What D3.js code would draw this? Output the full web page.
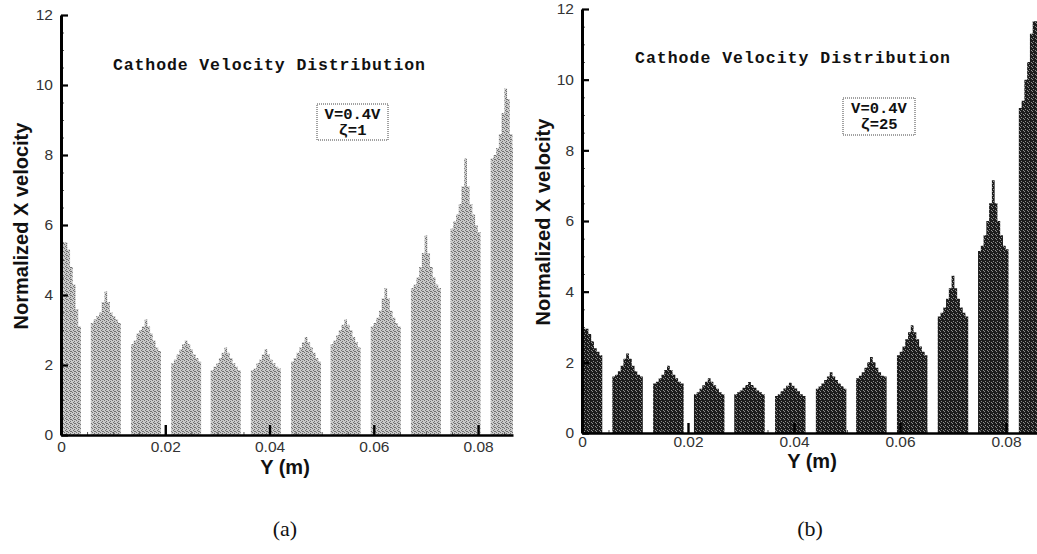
<!DOCTYPE html>
<html>
<head>
<meta charset="utf-8">
<script src="https://cdn.jsdelivr.net/npm/d3@7"></script>
<style>
  body { margin: 0; background: #fff; }
  svg { display: block; }
</style>
</head>
<body>
<div id="chart"></div>
<script>
// channel centres along Y (m), same for both cases
const channelCenters = [0.00095, 0.0086, 0.0163, 0.0240, 0.0316, 0.0393, 0.0470, 0.0546, 0.0623, 0.0700, 0.0776, 0.0853];
const channelWidth = 0.00575;

// normalized x velocity, 11 cells across each channel
// (a) zeta = 1
const velocityA = [
  [5.3, 5.4, 5.5, 5.5, 5.5, 5.5, 5.3, 4.8, 4.3, 3.6, 3.1],
  [3.2, 3.3, 3.4, 3.5, 3.8, 4.1, 3.8, 3.5, 3.4, 3.3, 3.2],
  [2.6, 2.7, 2.9, 3.0, 3.1, 3.3, 3.1, 2.9, 2.7, 2.5, 2.4],
  [2.05, 2.15, 2.3, 2.45, 2.6, 2.7, 2.6, 2.45, 2.3, 2.2, 2.1],
  [1.85, 1.95, 2.05, 2.2, 2.35, 2.5, 2.35, 2.2, 2.05, 1.95, 1.85],
  [1.85, 1.9, 2.05, 2.15, 2.3, 2.45, 2.3, 2.15, 2.05, 1.95, 1.9],
  [2.1, 2.2, 2.35, 2.5, 2.65, 2.8, 2.65, 2.5, 2.35, 2.2, 2.1],
  [2.6, 2.7, 2.85, 3.0, 3.15, 3.3, 3.15, 3.0, 2.8, 2.65, 2.5],
  [3.1, 3.2, 3.35, 3.55, 3.9, 4.2, 3.9, 3.55, 3.35, 3.2, 3.1],
  [4.2, 4.3, 4.5, 4.8, 5.2, 5.7, 5.2, 4.8, 4.5, 4.3, 4.2],
  [5.9, 6.1, 6.3, 6.6, 7.1, 7.9, 7.1, 6.6, 6.3, 6.0, 5.8],
  [7.9, 8.0, 8.2, 8.6, 9.2, 9.9, 9.6, 8.6, 8.2, 8.0, 7.9]
];
// (b) zeta = 25
const velocityB = [
  [2.7, 2.8, 2.85, 2.9, 2.95, 2.95, 2.8, 2.6, 2.4, 2.3, 2.2],
  [1.6, 1.65, 1.75, 1.9, 2.1, 2.25, 2.1, 1.9, 1.75, 1.65, 1.6],
  [1.4, 1.45, 1.55, 1.65, 1.78, 1.9, 1.78, 1.65, 1.55, 1.45, 1.4],
  [1.1, 1.15, 1.25, 1.35, 1.45, 1.55, 1.45, 1.35, 1.25, 1.15, 1.1],
  [1.1, 1.15, 1.2, 1.28, 1.36, 1.44, 1.36, 1.28, 1.2, 1.15, 1.1],
  [1.05, 1.1, 1.18, 1.26, 1.34, 1.42, 1.34, 1.26, 1.18, 1.1, 1.05],
  [1.25, 1.32, 1.4, 1.5, 1.6, 1.72, 1.6, 1.5, 1.4, 1.32, 1.25],
  [1.55, 1.62, 1.72, 1.85, 2.0, 2.15, 2.0, 1.85, 1.72, 1.62, 1.6],
  [2.2, 2.3, 2.45, 2.65, 2.85, 3.05, 2.85, 2.65, 2.45, 2.3, 2.2],
  [3.3, 3.4, 3.55, 3.8, 4.1, 4.45, 4.1, 3.8, 3.55, 3.4, 3.3],
  [5.15, 5.3, 5.6, 6.0, 6.5, 7.15, 6.5, 6.0, 5.6, 5.3, 5.2],
  [9.2, 9.4, 10.0, 10.5, 11.3, 11.65, 11.65, 11.3, 10.5, 10.0, 9.4]
];

const yTicks = [0, 2, 4, 6, 8, 10, 12];
const xTicks = [0, 0.02, 0.04, 0.06, 0.08];
const xTickLabels = ["0", "0.02", "0.04", "0.06", "0.08"];
const titleText = "Cathode Velocity Distribution";
const legendA = ["V=0.4V", "\u03B6=1"];
const legendB = ["V=0.4V", "\u03B6=25"];

const W = 1037, H = 554;

const svg = d3.select("#chart").append("svg")
    .attr("width", W)
    .attr("height", H);

const defs = svg.append("defs");

// halftone look of the scanned fills
function makePattern(id, bg, dot, dots) {
    const p = defs.append("pattern")
        .attr("id", id)
        .attr("patternUnits", "userSpaceOnUse")
        .attr("width", 4).attr("height", 4);
    p.append("rect").attr("width", 4).attr("height", 4).attr("fill", bg);
    dots.forEach(function (d) {
        p.append("rect").attr("x", d[0]).attr("y", d[1])
            .attr("width", 1).attr("height", 1).attr("fill", dot);
    });
}
makePattern("fillA", "#cacaca", "#707070", [[0, 0], [2, 1], [1, 2], [3, 3], [2, 3]]);
makePattern("fillB", "#1c1c1c", "#8c8c8c", [[1, 1], [3, 2], [0, 3]]);

function drawPanel(cfg) {
    var x = d3.scaleLinear().domain([0, 0.0867]).range([cfg.left, cfg.right]);
    var y = d3.scaleLinear().domain([0, 12]).range([cfg.bottom, cfg.top]);

    var g = svg.append("g");

    defs.append("clipPath").attr("id", cfg.id + "clip")
        .append("rect")
        .attr("x", cfg.left).attr("y", 0)
        .attr("width", cfg.right - cfg.left).attr("height", cfg.bottom);

    // stepped profile for each channel
    var area = d3.area()
        .curve(d3.curveStepAfter)
        .x(function (d) { return x(d[0]); })
        .y0(y(0))
        .y1(function (d) { return y(d[1]); });

    var bw = channelWidth / 11;
    var profiles = cfg.values.map(function (hs, c) {
        var start = channelCenters[c] - channelWidth / 2;
        var pts = hs.map(function (h, i) { return [start + i * bw, h]; });
        pts.push([start + channelWidth, hs[hs.length - 1]]);
        return pts;
    });

    g.append("g")
        .attr("clip-path", "url(#" + cfg.id + "clip)")
        .selectAll("path")
        .data(profiles)
        .enter().append("path")
        .attr("d", area)
        .attr("fill", cfg.fill);

    // minor ticks
    g.append("g")
        .attr("transform", "translate(" + cfg.left + ",0)")
        .call(d3.axisLeft(y).tickValues(d3.range(0, 12.01, 0.5)).tickFormat("").tickSizeInner(-3).tickSizeOuter(0))
        .call(function (s) { s.select(".domain").remove(); s.selectAll("line").attr("stroke", "#555"); });
    g.append("g")
        .attr("transform", "translate(0," + cfg.bottom + ")")
        .call(d3.axisBottom(x).tickValues(d3.range(0, 0.0867, 0.005)).tickFormat("").tickSizeInner(-3).tickSizeOuter(0))
        .call(function (s) { s.select(".domain").remove(); s.selectAll("line").attr("stroke", "#555"); });

    // y axis
    var ya = g.append("g")
        .attr("transform", "translate(" + cfg.left + ",0)")
        .call(d3.axisLeft(y).tickValues(yTicks).tickSizeInner(-7).tickSizeOuter(0).tickPadding(8));
    ya.select(".domain").attr("stroke-width", 3);
    ya.selectAll(".tick line").attr("stroke-width", 2.2);
    ya.selectAll("text")
        .attr("font-family", "Liberation Sans, Arial, sans-serif")
        .attr("font-size", 15.5)
        .attr("fill", "#333");

    // x axis
    var xa = g.append("g")
        .attr("transform", "translate(0," + cfg.bottom + ")")
        .call(d3.axisBottom(x).tickValues(xTicks).tickFormat(function (d, i) { return xTickLabels[i]; })
            .tickSizeInner(-10).tickSizeOuter(0).tickPadding(cfg.xPad));
    xa.select(".domain").attr("stroke-width", 2.6);
    xa.selectAll(".tick line").attr("stroke-width", 2.4);
    xa.selectAll("text")
        .attr("font-family", "Liberation Sans, Arial, sans-serif")
        .attr("font-size", 15.5)
        .attr("fill", "#333");

    // axis titles
    g.append("text")
        .attr("transform", "translate(" + cfg.yLabelX + "," + cfg.yLabelY + ") rotate(-90)")
        .attr("text-anchor", "middle")
        .attr("dominant-baseline", "central")
        .attr("font-family", "Liberation Sans, Arial, sans-serif")
        .attr("font-weight", "bold")
        .attr("font-size", 20)
        .attr("fill", "#111")
        .text("Normalized X velocity");

    g.append("text")
        .attr("x", cfg.xLabelX).attr("y", cfg.xLabelY)
        .attr("text-anchor", "middle")
        .attr("dominant-baseline", "central")
        .attr("font-family", "Liberation Sans, Arial, sans-serif")
        .attr("font-weight", "bold")
        .attr("font-size", 20)
        .attr("fill", "#111")
        .text("Y (m)");

    // chart title
    g.append("text")
        .attr("x", cfg.titleX).attr("y", cfg.titleY)
        .attr("textLength", cfg.titleLen)
        .attr("lengthAdjust", "spacing")
        .attr("font-family", "Liberation Mono, Courier New, monospace")
        .attr("font-weight", "bold")
        .attr("font-size", 16.5)
        .attr("fill", "#111")
        .text(titleText);

    // legend box
    var lb = cfg.legendBox;
    g.append("rect")
        .attr("x", lb[0]).attr("y", lb[1])
        .attr("width", lb[2]).attr("height", lb[3])
        .attr("fill", "none")
        .attr("stroke", "#444")
        .attr("stroke-width", 1)
        .attr("stroke-dasharray", "1,1");
    g.selectAll(".leg")
        .data(cfg.legend)
        .enter().append("text")
        .attr("x", lb[0] + lb[2] / 2)
        .attr("y", function (d, i) { return lb[1] + 15 + i * 16; })
        .attr("text-anchor", "middle")
        .attr("font-family", "Liberation Mono, Courier New, monospace")
        .attr("font-weight", "bold")
        .attr("font-size", 15.5)
        .attr("fill", "#111")
        .text(function (d) { return d; });

    // caption
    g.append("text")
        .attr("x", cfg.capX).attr("y", 536)
        .attr("text-anchor", "middle")
        .attr("font-family", "Liberation Serif, Times New Roman, serif")
        .attr("font-size", 22)
        .attr("fill", "#111")
        .text(cfg.caption);
}

drawPanel({
    id: "a", values: velocityA, fill: "url(#fillA)",
    left: 61, right: 513, top: 15, bottom: 435,
    xPad: 6,
    yLabelX: 21, yLabelY: 226, xLabelX: 285, xLabelY: 467,
    titleX: 113, titleY: 70, titleLen: 312,
    legendBox: [317, 104, 71, 36], legend: legendA,
    capX: 285, caption: "(a)"
});

drawPanel({
    id: "b", values: velocityB, fill: "url(#fillB)",
    left: 582, right: 1041.5, top: 9, bottom: 433,
    xPad: 3,
    yLabelX: 543, yLabelY: 222, xLabelX: 812, xLabelY: 461,
    titleX: 635, titleY: 63, titleLen: 315,
    legendBox: [843, 98, 72, 37], legend: legendB,
    capX: 810, caption: "(b)"
});
</script>
</body>
</html>
